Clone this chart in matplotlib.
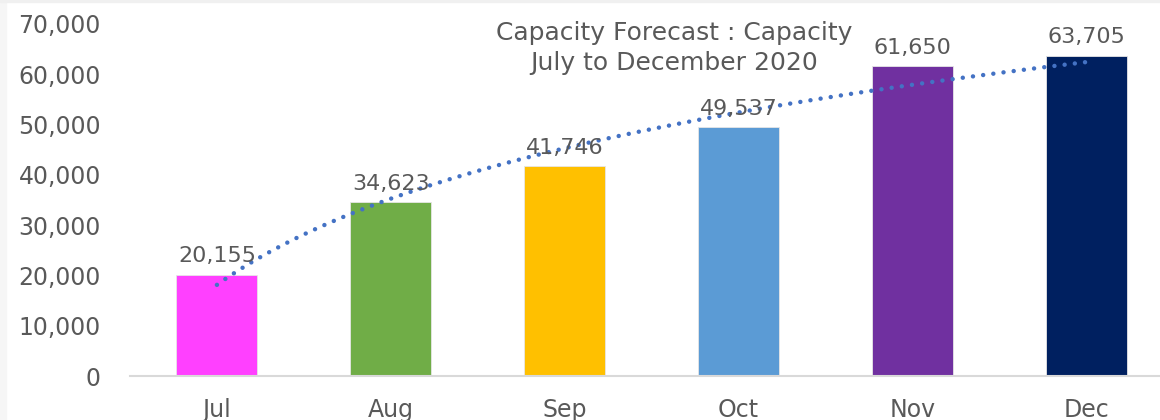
import numpy as np
import matplotlib
matplotlib.use("Agg")
import matplotlib.pyplot as plt
from matplotlib.patches import Rectangle
from matplotlib.ticker import FuncFormatter

# data
months = ["Jul", "Aug", "Sep", "Oct", "Nov", "Dec"]
capacity = [20155, 34623, 41746, 49537, 61650, 63705]
bar_colors = ["#FF40FF", "#70AD47", "#FFC000", "#5B9BD5", "#7030A0", "#002060"]
title_lines = ["Capacity Forecast : Capacity", "July to December 2020"]

TEXT = "#595959"
plt.rcParams["font.family"] = ["DejaVu Sans"]

fig = plt.figure(figsize=(11.6, 4.2), dpi=100)
ax = fig.add_axes([130 / 1160, 44 / 420, 1043 / 1160, 352 / 420])

# faint frame edges seen on the screenshot
fig.patches.append(Rectangle((0, 0), 6 / 1160, 1, transform=fig.transFigure,
                             color="#F6F6F6", zorder=0))
fig.patches.append(Rectangle((0, 1 - 2 / 420), 1, 2 / 420, transform=fig.transFigure,
                             color="#F0F0F0", zorder=0))

x = np.arange(len(months))
bars = ax.bar(x, capacity, width=0.466, color=bar_colors,
              edgecolor="#E6E6E6", linewidth=0.6, zorder=2)

# data labels
for xi, v in zip(x, capacity):
    ax.annotate(f"{v:,}", (xi, v), xytext=(0, 6), textcoords="offset points",
                ha="center", va="bottom", fontsize=16, color=TEXT,
                annotation_clip=False, zorder=4)

# logarithmic trendline, like the spreadsheet one
pos = x + 1
b, a = np.polyfit(np.log(pos), capacity, 1)
xs = np.linspace(1, 6, 300)
ax.plot(xs - 1, a + b * np.log(xs), color="#4472C4", linewidth=3.2,
        linestyle=(0, (0.01, 2.3)), dash_capstyle="round", zorder=3)

ax.set_xlim(-0.5, 5.5)
ax.set_ylim(0, 70000)
ax.set_yticks(np.arange(0, 70001, 10000))
ax.yaxis.set_major_formatter(FuncFormatter(lambda v, _: f"{int(v):,}"))
ax.set_xticks(x)
ax.set_xticklabels(months)
ax.tick_params(axis="both", length=0, labelsize=17, labelcolor=TEXT)
ax.tick_params(axis="y", pad=21)
ax.tick_params(axis="x", pad=16)

for side in ["top", "right", "left"]:
    ax.spines[side].set_visible(False)
ax.spines["bottom"].set_color("#D9D9D9")
ax.spines["bottom"].set_linewidth(1.5)

fig.text(674 / 1160, 1 - 48 / 420, "\n".join(title_lines), ha="center",
         va="center", fontsize=18, color=TEXT, linespacing=1.3)

fig.savefig("out.png", dpi=100)
